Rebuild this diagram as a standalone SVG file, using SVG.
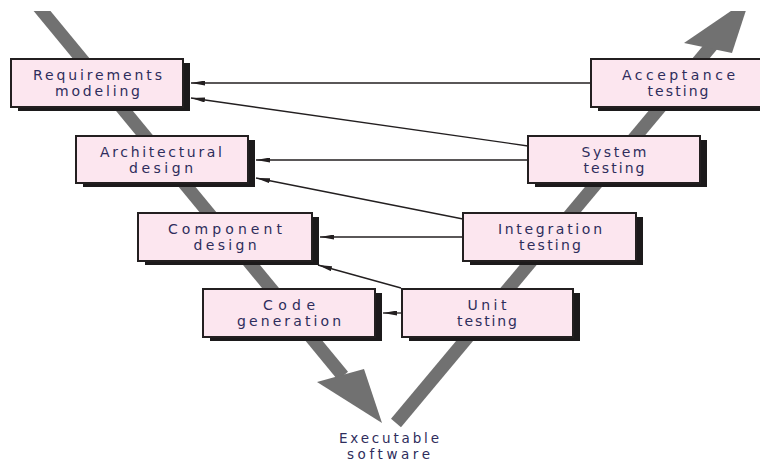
<svg xmlns="http://www.w3.org/2000/svg" width="760" height="461" viewBox="0 0 760 461">
  <style>
    .band { stroke: #717171; stroke-width: 13; fill: none; }
    .head { fill: #717171; }
    .shadow { fill: #1c1a1b; }
    .box { fill: #fce6ef; stroke: #231f20; stroke-width: 2; }
    .label { font-family: "DejaVu Sans", "Liberation Sans", sans-serif; font-size: 14px; fill: #2e2d5c; text-anchor: middle; }
    .foot { font-size: 13.5px; }
    .conn { stroke: #231f20; stroke-width: 1.3; fill: none; marker-end: url(#arr); }
  </style>
  <defs>
    <marker id="arr" viewBox="0 0 14 5" refX="14" refY="2.5" markerWidth="14" markerHeight="5" markerUnits="userSpaceOnUse" orient="auto">
      <path d="M0,0 L14,2.5 L0,5 Z" fill="#231f20"/>
    </marker>
    <clipPath id="page">
      <rect x="0" y="11" width="760" height="450"/>
    </clipPath>
  </defs>
  <rect width="760" height="461" fill="#ffffff"/>

  <!-- the V: development going down, testing coming back up -->
  <g id="v-shape" clip-path="url(#page)">
    <line class="band" x1="33" y1="0" x2="343" y2="376"/>
    <polygon class="head" points="317,382 364,369 382,423"/>
    <line class="band" x1="396" y1="423" x2="713" y2="44"/>
    <polygon class="head" points="684,43 732,53 750,-2"/>
  </g>

  <g id="connectors">
    <line class="conn" x1="591" y1="83" x2="191" y2="83"/>
    <line class="conn" x1="528" y1="146" x2="191" y2="98"/>
    <line class="conn" x1="528" y1="160" x2="256" y2="160"/>
    <line class="conn" x1="463" y1="219" x2="256" y2="178"/>
    <line class="conn" x1="463" y1="237" x2="320" y2="237"/>
    <line class="conn" x1="401" y1="288" x2="318" y2="265"/>
    <line class="conn" x1="402" y1="313" x2="383" y2="313"/>
  </g>

  <g id="requirements-modeling">
    <rect class="shadow" x="18" y="63" width="172" height="48"/>
    <rect class="box" x="11" y="59" width="172" height="48"/>
    <text class="label" x="97.5" y="79.5" textLength="129" lengthAdjust="spacing">Requirements</text>
    <text class="label" x="97.5" y="96" textLength="85" lengthAdjust="spacing">modeling</text>
  </g>
  <g id="architectural-design">
    <rect class="shadow" x="83" y="140" width="172" height="47"/>
    <rect class="box" x="76" y="136" width="172" height="47"/>
    <text class="label" x="161" y="156.5" textLength="122" lengthAdjust="spacing">Architectural</text>
    <text class="label" x="161" y="173" textLength="64" lengthAdjust="spacing">design</text>
  </g>
  <g id="component-design">
    <rect class="shadow" x="145" y="217" width="174" height="48"/>
    <rect class="box" x="138" y="213" width="174" height="48"/>
    <text class="label" x="225" y="233.5" textLength="114" lengthAdjust="spacing">Component</text>
    <text class="label" x="225" y="250" textLength="63" lengthAdjust="spacing">design</text>
  </g>
  <g id="code-generation">
    <rect class="shadow" x="210" y="293" width="172" height="48"/>
    <rect class="box" x="203" y="289" width="172" height="48"/>
    <text class="label" x="289" y="309.5" textLength="52" lengthAdjust="spacing">Code</text>
    <text class="label" x="289" y="326" textLength="104" lengthAdjust="spacing">generation</text>
  </g>
  <g id="unit-testing">
    <rect class="shadow" x="409" y="293" width="171" height="48"/>
    <rect class="box" x="402" y="289" width="171" height="48"/>
    <text class="label" x="487" y="309.5" textLength="39" lengthAdjust="spacing">Unit</text>
    <text class="label" x="487" y="326" textLength="60" lengthAdjust="spacing">testing</text>
  </g>
  <g id="integration-testing">
    <rect class="shadow" x="470" y="217" width="173" height="48"/>
    <rect class="box" x="463" y="213" width="173" height="48"/>
    <text class="label" x="550" y="233.5" textLength="104" lengthAdjust="spacing">Integration</text>
    <text class="label" x="550" y="250" textLength="62" lengthAdjust="spacing">testing</text>
  </g>
  <g id="system-testing">
    <rect class="shadow" x="535" y="140" width="172" height="47"/>
    <rect class="box" x="528" y="136" width="172" height="47"/>
    <text class="label" x="614" y="156.5" textLength="65" lengthAdjust="spacing">System</text>
    <text class="label" x="614" y="173" textLength="61" lengthAdjust="spacing">testing</text>
  </g>
  <g id="acceptance-testing">
    <rect class="shadow" x="598" y="63" width="174" height="48"/>
    <rect class="box" x="591" y="59" width="174" height="48"/>
    <text class="label" x="678.5" y="79.5" textLength="113" lengthAdjust="spacing">Acceptance</text>
    <text class="label" x="678" y="96" textLength="61" lengthAdjust="spacing">testing</text>
  </g>

  <g id="executable-software">
    <text class="label foot" x="389" y="443" textLength="100" lengthAdjust="spacing">Executable</text>
    <text class="label foot" x="388.5" y="459" textLength="83" lengthAdjust="spacing">software</text>
  </g>
</svg>
